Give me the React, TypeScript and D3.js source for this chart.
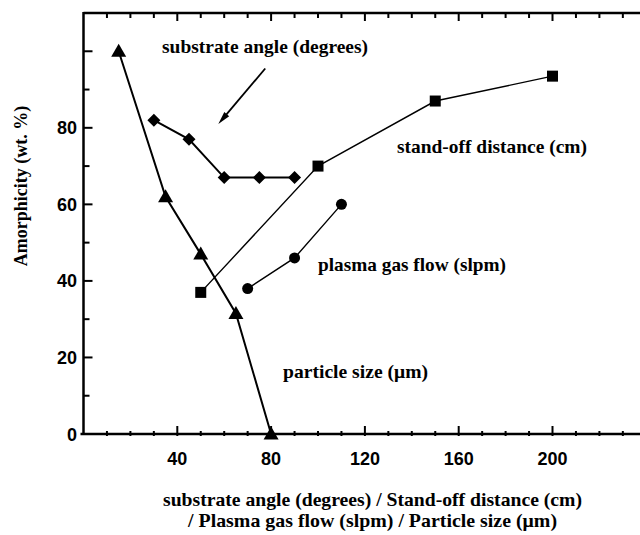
import React from "react";
import * as d3 from "d3";

// particle size (um)
const particleX = [15, 35, 50, 65, 80];
const particleY = [100, 62, 47, 31.5, 0];
// substrate angle (degrees)
const substrateX = [30, 45, 60, 75, 90];
const substrateY = [82, 77, 67, 67, 67];
// stand-off distance (cm)
const standoffX = [50, 100, 150, 200];
const standoffY = [37, 70, 87, 93.5];
// plasma gas flow (slpm)
const plasmaX = [70, 90, 110];
const plasmaY = [38, 46, 60];

const xTickLabels = [40, 80, 120, 160, 200];
const yTickLabels = [0, 20, 40, 60, 80];
const arrowFrom = [77.5, 95.5];
const arrowTo = [57.5, 81];

const width = 640;
const height = 535;
const margin = { top: 13, left: 83.5, bottom: 434 };

const serif = "'Liberation Serif', 'Times New Roman', serif";
const sans = "'Liberation Sans', Arial, sans-serif";

export default function App() {
  const x = d3.scaleLinear().domain([0, 240]).range([margin.left, margin.left + 240 * 2.345]);
  const y = d3.scaleLinear().domain([0, 110]).range([margin.bottom, margin.top]);
  const line = d3
    .line<[number, number]>()
    .x((d) => x(d[0]))
    .y((d) => y(d[1]));
  const zip = (a: number[], b: number[]) => a.map((v, i) => [v, b[i]] as [number, number]);

  const xMinor = d3.range(10, 241, 10);
  const yMinor = d3.range(10, 110, 10);

  const ax = x(arrowFrom[0]);
  const ay = y(arrowFrom[1]);
  const bx = x(arrowTo[0]);
  const by = y(arrowTo[1]);
  const ang = Math.atan2(by - ay, bx - ax);
  const hl = 13;
  const hw = 3.2;
  const head = [
    [bx, by],
    [bx - hl * Math.cos(ang) + hw * Math.sin(ang), by - hl * Math.sin(ang) - hw * Math.cos(ang)],
    [bx - hl * Math.cos(ang) - hw * Math.sin(ang), by - hl * Math.sin(ang) + hw * Math.cos(ang)],
  ];

  return (
    <svg
      width={width}
      height={height}
      style={{ position: "absolute", left: 0, top: 0, background: "#fff" }}
    >
      {/* frame */}
      <line x1={x(0)} x2={x(240)} y1={y(110)} y2={y(110)} stroke="#000" strokeWidth={2.5} />
      <line x1={x(0)} x2={x(0)} y1={y(0) + 1} y2={y(110) - 1} stroke="#000" strokeWidth={2.5} />
      <line x1={x(0) - 3} x2={x(240)} y1={y(0)} y2={y(0)} stroke="#000" strokeWidth={2.5} />

      {/* x ticks */}
      {xMinor.map((t) => {
        const major = t % 40 === 0;
        return (
          <g key={"xt" + t} stroke="#000" strokeWidth={2}>
            <line x1={x(t)} x2={x(t)} y1={y(0) + 2} y2={y(0) - (major ? 8 : 3)} />
            <line x1={x(t)} x2={x(t)} y1={y(110)} y2={y(110) + (major ? 8 : 5)} />
          </g>
        );
      })}
      {/* y ticks */}
      {yMinor.map((t) => {
        const major = t % 20 === 0;
        return (
          <line
            key={"yt" + t}
            x1={x(0)}
            x2={x(0) + (major ? 9 : 6)}
            y1={y(t)}
            y2={y(t)}
            stroke="#000"
            strokeWidth={2}
          />
        );
      })}

      {xTickLabels.map((t) => (
        <text
          key={"xl" + t}
          x={x(t)}
          y={465}
          textAnchor="middle"
          fontFamily={sans}
          fontWeight="bold"
          fontSize={18}
        >
          {t}
        </text>
      ))}
      {yTickLabels.map((t) => (
        <text
          key={"yl" + t}
          x={77}
          y={y(t) + 6.5}
          textAnchor="end"
          fontFamily={sans}
          fontWeight="bold"
          fontSize={18}
        >
          {t}
        </text>
      ))}

      {/* series lines */}
      <path d={line(zip(particleX, particleY)) || ""} fill="none" stroke="#000" strokeWidth={2} />
      <path d={line(zip(substrateX, substrateY)) || ""} fill="none" stroke="#000" strokeWidth={2} />
      <path d={line(zip(standoffX, standoffY)) || ""} fill="none" stroke="#000" strokeWidth={1.4} />
      <path d={line(zip(plasmaX, plasmaY)) || ""} fill="none" stroke="#000" strokeWidth={1.4} />

      {/* markers */}
      {zip(particleX, particleY).map((d, i) => (
        <path
          key={"tr" + i}
          transform={`translate(${x(d[0])},${y(d[1])})`}
          d="M0,-7.5L7.5,5.5L-7.5,5.5Z"
          fill="#000"
        />
      ))}
      {zip(substrateX, substrateY).map((d, i) => (
        <path
          key={"di" + i}
          transform={`translate(${x(d[0])},${y(d[1])})`}
          d="M0,-6.5L6.5,0L0,6.5L-6.5,0Z"
          fill="#000"
        />
      ))}
      {zip(standoffX, standoffY).map((d, i) => (
        <rect key={"sq" + i} x={x(d[0]) - 5.5} y={y(d[1]) - 5.5} width={11} height={11} fill="#000" />
      ))}
      {zip(plasmaX, plasmaY).map((d, i) => (
        <circle key={"ci" + i} cx={x(d[0])} cy={y(d[1])} r={5.5} fill="#000" />
      ))}

      {/* arrow */}
      <line x1={ax} y1={ay} x2={bx - 8 * Math.cos(ang)} y2={by - 8 * Math.sin(ang)} stroke="#000" strokeWidth={1.8} />
      <path d={"M" + head.map((p) => p.join(",")).join("L") + "Z"} fill="#000" />

      {/* annotations */}
      <g fontFamily={serif} fontWeight="bold" fontSize={19}>
        <text x={162} y={53} textLength={206} lengthAdjust="spacingAndGlyphs">
          substrate angle (degrees)
        </text>
        <text x={397} y={153} textLength={190} lengthAdjust="spacingAndGlyphs">
          stand-off distance (cm)
        </text>
        <text x={318} y={271} textLength={188} lengthAdjust="spacingAndGlyphs">
          plasma gas flow (slpm)
        </text>
        <text x={283} y={378} textLength={145} lengthAdjust="spacingAndGlyphs">
          particle size (μm)
        </text>
        <text x={163} y={506} textLength={419} lengthAdjust="spacingAndGlyphs">
          substrate angle (degrees) / Stand-off distance (cm)
        </text>
        <text x={188} y={527} textLength={369} lengthAdjust="spacingAndGlyphs">
          / Plasma gas flow (slpm) / Particle size (μm)
        </text>
        <text
          transform="translate(27,186) rotate(-90)"
          textAnchor="middle"
          fontSize={18}
        >
          Amorphicity (wt. %)
        </text>
      </g>
    </svg>
  );
}
